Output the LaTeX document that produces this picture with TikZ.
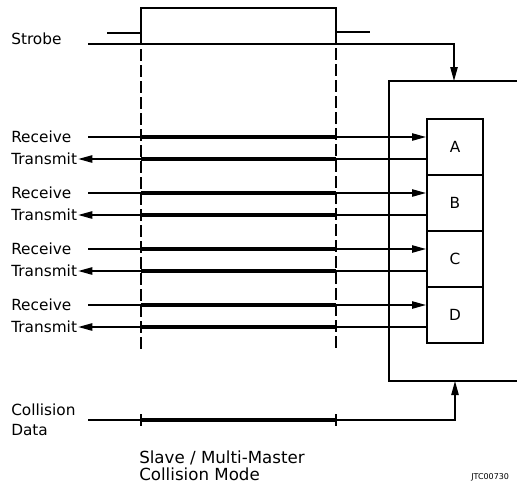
\documentclass[tikz,border=0pt]{standalone}
\usepackage{fontspec}
\setmainfont{DejaVu Sans}
\usetikzlibrary{arrows.meta}

\tikzset{
  sig/.style={line width=1.1},
  busy/.style={line width=3},
  sigarrow/.style={-{Triangle[length=10.5pt,width=5.5pt]}},
  lbl/.style={anchor=west,inner sep=0.75pt,font=\fontsize{11.5}{13}\selectfont},
  reg/.style={draw,line width=1.5,minimum width=42pt,minimum height=42pt,inner sep=0pt,font=\fontsize{11.5}{13}\selectfont},
  guide/.style={line width=1,dash pattern=on 9pt off 3pt}
}

\begin{document}
\begin{tikzpicture}[x=0.75pt,y=0.75pt,yscale=-1,xscale=1]
\useasboundingbox (0,0) rectangle (517,486);

%Strobe pulse
\draw [line width=2.2] (107,33) -- (141,33) -- (141,8) -- (336,8) -- (336,32) -- (370,32);
\coordinate (g1) at (141,33);
\coordinate (g2) at (336,32);
%Dashed guides
\draw [guide] (g1) -- (141,350);
\draw [guide] (g2) -- (336,350);

%Outer unit
\coordinate (utop) at (454,81);
\coordinate (ubot) at (455,381);
\draw [line width=1.5] (517,81) -- (389,81) -- (389,381) -- (517,381);

% Text Node
\node [lbl] (stbl) at (10,39) {Strobe};
\coordinate (stb) at (88,44);
\draw [sig,sigarrow] (stb) -| (utop);

%Registers and Receive / Transmit lines
\foreach \n/\y in {A/147,B/203,C/259,D/315} {
  \node [reg] (\n) at (455,\y) {\n};
  \node [lbl] (rl\n) at (10,\y-10) {Receive};
  \node [lbl] (tl\n) at (10,\y+12) {Transmit};
  \coordinate (rx\n) at (88,\y-10);
  \coordinate (tx\n) at (88,\y+12);
  \draw [sig,sigarrow] (rx\n) -- (rx\n -| \n.west);
  \draw [busy] (g1 |- rx\n) -- (g2 |- rx\n);
  \draw [sig,sigarrow] (tx\n -| \n.west) -- (tl\n.east);
  \draw [busy] (g1 |- tx\n) -- (g2 |- tx\n);
}

%Collision data
\node [lbl,align=left] (coll) at (10,420) {Collision\\[2pt]Data};
\coordinate (col) at (88,420);
\draw [sig,sigarrow] (col) -| (ubot);
\draw [busy] (g1 |- col) -- (g2 |- col);
\draw [sig] (141,414) -- (141,426);
\draw [sig] (336,414) -- (336,426);

% Text Node
\node [lbl,align=left,font=\fontsize{12.5}{14}\selectfont] (mode) at (138,466) {Slave / Multi-Master\\[-1pt]Collision Mode};
% Text Node
\node [anchor=west,inner sep=0pt,font=\fontsize{6}{7}\selectfont] (code) at (471,477) {JTC00730};

\end{tikzpicture}
\end{document}
